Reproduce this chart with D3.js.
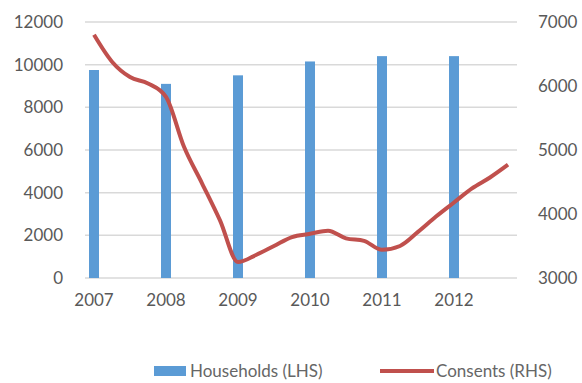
<!DOCTYPE html>
<meta charset="utf-8">
<title>Households and consents</title>
<script src="https://d3js.org/d3.v7.min.js"></script>
<style>
  body { margin: 0; background: #fff; }
  text { font-family: Lato, "Open Sans", sans-serif; fill: #595959; }
</style>
<body>
</body>
<script>
var years = ["2007", "2008", "2009", "2010", "2011", "2012"];
var households = [9750, 9100, 9500, 10150, 10400, 10400];
var quarters = [];
years.forEach(function (y) {
  ["Q1", "Q2", "Q3", "Q4"].forEach(function (q) { quarters.push(y + q); });
});
var consents = [6800, 6380, 6140, 6040, 5830, 5050, 4480, 3900,
                3250, 3360, 3500, 3640, 3690, 3740, 3620, 3580,
                3440, 3500, 3720, 3960, 4180, 4400, 4570, 4770];
var leftTicks = [0, 2000, 4000, 6000, 8000, 10000, 12000];
var rightTicks = [3000, 4000, 5000, 6000, 7000];

var width = 582, height = 383;
var margin = {top: 22, right: 65, bottom: 105, left: 85};
var innerW = width - margin.left - margin.right;
var innerH = height - margin.top - margin.bottom;

var svg = d3.select("body").append("svg")
            .attr("width", width)
            .attr("height", height);
var g = svg.append("g")
           .attr("transform", "translate(" + margin.left + "," + margin.top + ")");

var x = d3.scaleBand().domain(quarters).range([0, innerW]).padding(0);
var yLeft = d3.scaleLinear().domain([0, 12000]).range([innerH, 0]);
var yRight = d3.scaleLinear().domain([3000, 7000]).range([innerH, 0]);

// gridlines
g.selectAll(".grid")
 .data(leftTicks)
 .enter().append("line")
 .attr("x1", 0).attr("x2", innerW)
 .attr("y1", function (d) { return yLeft(d); })
 .attr("y2", function (d) { return yLeft(d); })
 .attr("stroke", "#d9d9d9")
 .attr("stroke-width", 1.5);

// bars on the first quarter of each year
var barW = 10;
g.selectAll(".bar")
 .data(years)
 .enter().append("rect")
 .attr("x", function (d) { return x(d + "Q1") + x.bandwidth() / 2 - barW / 2; })
 .attr("y", function (d, i) { return yLeft(households[i]); })
 .attr("width", barW)
 .attr("height", function (d, i) { return innerH - yLeft(households[i]); })
 .attr("fill", "#5b9bd5");

// consents line
var line = d3.line()
  .x(function (d, i) { return x(quarters[i]) + x.bandwidth() / 2; })
  .y(function (d) { return yRight(d); })
  .curve(d3.curveMonotoneX);
g.append("path")
 .datum(consents)
 .attr("d", line)
 .attr("fill", "none")
 .attr("stroke", "#c0504d")
 .attr("stroke-width", 4)
 .attr("stroke-linejoin", "round");

// axes
var leftAxis = d3.axisLeft(yLeft).tickValues(leftTicks).tickFormat(d3.format("d"))
  .tickSize(0).tickPadding(22);
g.append("g").call(leftAxis).call(function (s) { s.select(".domain").remove(); })
 .selectAll("text").style("font-size", "17px").attr("fill", "#666");

var rightAxis = d3.axisRight(yRight).tickValues(rightTicks).tickFormat(d3.format("d"))
  .tickSize(0).tickPadding(21);
g.append("g").attr("transform", "translate(" + innerW + ",0)")
 .call(rightAxis).call(function (s) { s.select(".domain").remove(); })
 .selectAll("text").style("font-size", "17px").attr("fill", "#666");

var xAxis = d3.axisBottom(x)
  .tickValues(years.map(function (y) { return y + "Q1"; }))
  .tickFormat(function (d) { return d.slice(0, 4); })
  .tickSize(0).tickPadding(16);
g.append("g").attr("transform", "translate(0," + innerH + ")")
 .call(xAxis).call(function (s) { s.select(".domain").remove(); })
 .selectAll("text").style("font-size", "17px").attr("fill", "#666");

// legend
var legend = svg.append("g").attr("transform", "translate(0,371)");
legend.append("rect").attr("x", 154).attr("y", -5).attr("width", 32).attr("height", 10).attr("fill", "#5b9bd5");
legend.append("text").attr("x", 190).attr("y", 0).attr("dy", "0.35em")
      .style("font-size", "17px").style("fill", "#666").text("Households (LHS)");
legend.append("line").attr("x1", 380).attr("x2", 434).attr("y1", 0).attr("y2", 0)
      .attr("stroke", "#c0504d").attr("stroke-width", 4);
legend.append("text").attr("x", 436).attr("y", 0).attr("dy", "0.35em")
      .style("font-size", "17px").style("fill", "#666").text("Consents (RHS)");
</script>
